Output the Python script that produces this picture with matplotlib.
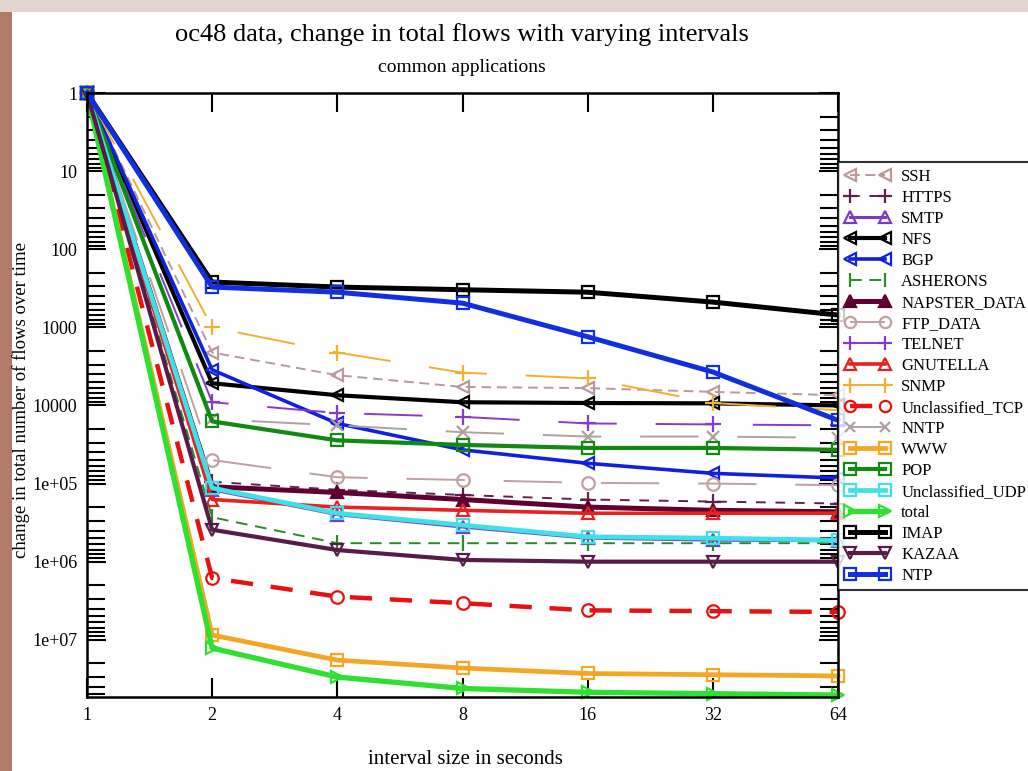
import matplotlib
matplotlib.use("Agg")
import matplotlib.pyplot as plt
from matplotlib.ticker import FixedLocator, FixedFormatter, LogLocator, NullFormatter, NullLocator
from matplotlib.patches import Rectangle
import numpy as np

plt.rcParams['font.family'] = ['Liberation Serif', 'DejaVu Serif']

intervals = [1, 2, 4, 8, 16, 32, 64]

names = ["SSH", "HTTPS", "SMTP", "NFS", "BGP", "ASHERONS", "NAPSTER_DATA",
         "FTP_DATA", "TELNET", "GNUTELLA", "SNMP", "Unclassified_TCP", "NNTP",
         "WWW", "POP", "Unclassified_UDP", "total", "IMAP", "KAZAA", "NTP"]

ssh = [1, 2.1e3, 4.1e3, 5.8e3, 6.0e3, 6.7e3, 7.4e3]
https = [1, 9.5e4, 1.2e5, 1.4e5, 1.6e5, 1.7e5, 1.8e5]
smtp = [1, 1.2e5, 2.5e5, 3.6e5, 5.0e5, 5.3e5, 5.4e5]
nfs = [1, 5.2e3, 7.4e3, 9.1e3, 9.3e3, 9.4e3, 1.0e4]
bgp = [1, 3.5e3, 1.7e4, 3.7e4, 5.5e4, 7.4e4, 8.5e4]
asherons = [1, 2.7e5, 5.8e5, 5.8e5, 5.8e5, 5.8e5, 5.8e5]
napster_data = [1, 1.1e5, 1.3e5, 1.6e5, 2.0e5, 2.2e5, 2.3e5]
ftp_data = [1, 5.0e4, 8.3e4, 9.0e4, 9.8e4, 1.0e5, 1.05e5]
telnet = [1, 9.1e3, 1.25e4, 1.4e4, 1.7e4, 1.75e4, 1.8e4]
gnutella = [1, 1.6e5, 2.0e5, 2.2e5, 2.4e5, 2.4e5, 2.4e5]
snmp = [1, 1.0e3, 2.1e3, 3.8e3, 4.5e3, 9.3e3, 1.15e4]
unclassified_tcp = [1, 1.62e6, 2.8e6, 3.4e6, 4.2e6, 4.3e6, 4.4e6]
nntp = [1, 1.5e4, 1.8e4, 2.2e4, 2.5e4, 2.5e4, 2.6e4]
www = [1, 8.7e6, 1.82e7, 2.3e7, 2.7e7, 2.8e7, 2.9e7]
pop = [1, 1.6e4, 2.8e4, 3.2e4, 3.5e4, 3.5e4, 3.7e4]
unclassified_udp = [1, 1.14e5, 2.4e5, 3.4e5, 4.8e5, 5.0e5, 5.3e5]
total = [1, 1.28e7, 3.0e7, 4.2e7, 4.7e7, 4.9e7, 5.1e7]
imap = [1, 263, 305, 330, 355, 475, 695]
kazaa = [1, 3.9e5, 7.1e5, 9.5e5, 1.0e6, 1.0e6, 1.0e6]
ntp = [1, 305, 355, 490, 1320, 3730, 1.55e4]

series = [ssh, https, smtp, nfs, bgp, asherons, napster_data, ftp_data, telnet,
          gnutella, snmp, unclassified_tcp, nntp, www, pop, unclassified_udp,
          total, imap, kazaa, ntp]

ytick_vals = [1, 10, 100, 1000, 10000, 1e5, 1e6, 1e7]
ytick_labels = ["1", "10", "100", "1000", "10000", "1e+05", "1e+06", "1e+07"]

styles = {
    "SSH": dict(color="#b89a9a", lw=1.4, ls=(0, (5, 3)), marker="<", ms=9),
    "HTTPS": dict(color="#602050", lw=1.4, ls=(0, (5, 5)), marker="+", ms=11),
    "SMTP": dict(color="#7a3ac8", lw=2.2, ls="-", marker="^", ms=9),
    "NFS": dict(color="#000000", lw=3.0, ls="-", marker="<", ms=9),
    "BGP": dict(color="#1020e0", lw=2.6, ls="-", marker="<", ms=9),
    "ASHERONS": dict(color="#2a8a2a", lw=1.4, ls=(0, (6, 4)), marker="|", ms=11),
    "NAPSTER_DATA": dict(color="#600030", lw=3.6, ls="-", marker="^", ms=9, filled=True),
    "FTP_DATA": dict(color="#c0a0a0", lw=1.4, ls=(0, (30, 20)), marker="o", ms=9),
    "TELNET": dict(color="#8a3ac8", lw=1.4, ls=(0, (30, 20)), marker="+", ms=11),
    "GNUTELLA": dict(color="#e82020", lw=2.6, ls="-", marker="^", ms=9),
    "SNMP": dict(color="#f0b030", lw=1.4, ls=(0, (30, 20)), marker="+", ms=12),
    "Unclassified_TCP": dict(color="#e81010", lw=3.2, ls=(0, (5, 4)), marker="o", ms=9),
    "NNTP": dict(color="#b0a0a0", lw=1.4, ls=(0, (30, 20)), marker="x", ms=8),
    "WWW": dict(color="#f5a623", lw=3.4, ls="-", marker="s", ms=9),
    "POP": dict(color="#108a10", lw=3.0, ls="-", marker="s", ms=9),
    "Unclassified_UDP": dict(color="#40e0e8", lw=3.4, ls="-", marker="s", ms=9),
    "total": dict(color="#30e030", lw=3.8, ls="-", marker=">", ms=9),
    "IMAP": dict(color="#000000", lw=3.6, ls="-", marker="s", ms=9),
    "KAZAA": dict(color="#5a1a4a", lw=3.0, ls="-", marker="v", ms=9),
    "NTP": dict(color="#1030e0", lw=3.6, ls="-", marker="s", ms=9),
}

fig = plt.figure(figsize=(10.28, 7.71), dpi=100)
fig.patch.set_facecolor("white")

# slide-like border strips
fig.add_artist(Rectangle((0, 0), 12/1028, 1, transform=fig.transFigure,
                         facecolor="#b27a68", edgecolor="none", zorder=0))
fig.add_artist(Rectangle((0, 1 - 12/771), 1, 12/771, transform=fig.transFigure,
                         facecolor="#e2d6d2", edgecolor="none", zorder=0))

ax = fig.add_axes([87/1028, 1 - 697/771, (838 - 87)/1028, (697 - 93)/771])

for name, vals in zip(names, series):
    st = styles[name]
    filled = st.get("filled", False)
    ax.plot(intervals, vals, color=st["color"], lw=st["lw"], linestyle=st["ls"],
            marker=st["marker"], markersize=st["ms"],
            markerfacecolor=st["color"] if filled else "none",
            markeredgecolor=st["color"], markeredgewidth=1.6,
            label=name, clip_on=False)

ax.set_xscale("log", base=2)
ax.set_yscale("log")
ax.set_xlim(1, 64)
ax.set_ylim(5.4e7, 1)

ax.xaxis.set_major_locator(FixedLocator(intervals))
ax.xaxis.set_major_formatter(FixedFormatter([str(v) for v in intervals]))
ax.xaxis.set_minor_locator(NullLocator())

ax.yaxis.set_major_locator(FixedLocator(ytick_vals))
ax.yaxis.set_major_formatter(FixedFormatter(ytick_labels))
ax.yaxis.set_minor_locator(LogLocator(base=10, subs=np.arange(2, 10), numticks=20))
ax.yaxis.set_minor_formatter(NullFormatter())

ax.tick_params(axis="both", which="both", direction="in", top=True, right=True,
               labelsize=13, width=1.5, colors="black")
ax.tick_params(axis="both", which="major", length=14, pad=7)
ax.tick_params(axis="y", which="minor", length=13)
for sp in ax.spines.values():
    sp.set_linewidth(1.8)

fig.text(462/1028, 1 - 35/771, "oc48 data, change in total flows with varying intervals",
         ha="center", va="center", fontsize=19)
fig.text(462/1028, 1 - 68/771, "common applications", ha="center", va="center", fontsize=14)
fig.text(465/1028, 1 - 760/771, "interval size in seconds", ha="center", va="center", fontsize=15)
fig.text(21/1028, 1 - 400/771, "change in total number of flows over time", ha="center",
         va="center", rotation=90, fontsize=13.5)

leg = fig.legend(loc="upper left", bbox_to_anchor=(838/1028, 1 - 162/771),
                 bbox_transform=fig.transFigure, numpoints=2, fontsize=12,
                 handlelength=2.7, handletextpad=0.7, labelspacing=0.3,
                 borderpad=0.4, borderaxespad=0, fancybox=False, frameon=True,
                 markerscale=0.9)
leg.get_frame().set_edgecolor("black")
leg.get_frame().set_linewidth(1.5)

fig.savefig("out.png", dpi=100)
